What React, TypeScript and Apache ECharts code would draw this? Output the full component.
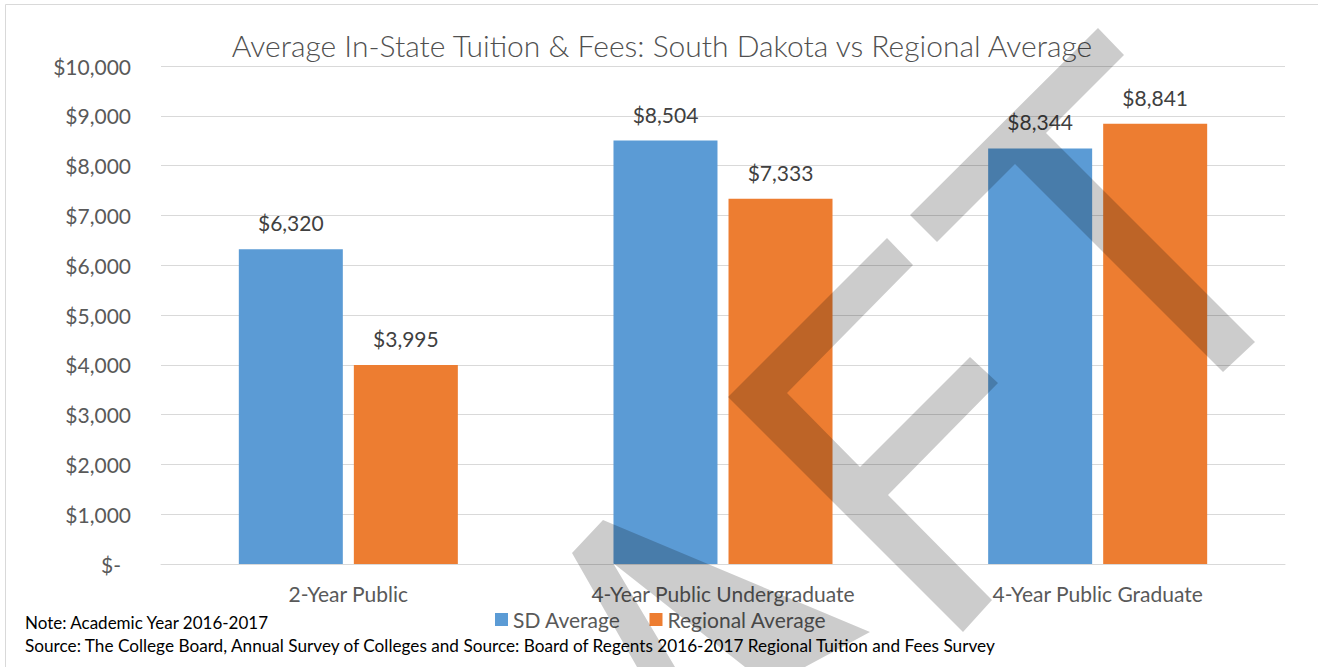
import React, { useEffect, useRef } from "react";
import * as echarts from "echarts";

const categories = ["2-Year Public", "4-Year Public Undergraduate", "4-Year Public Graduate"];
const sdAverage = [6320, 8504, 8344];
const regionalAverage = [3995, 7333, 8841];
const seriesNames = ["SD Average", "Regional Average"];
const titleText = "Average In-State Tuition & Fees: South Dakota vs Regional Average";
const noteText = "Note: Academic Year 2016-2017";
const sourceText =
  "Source: The College Board, Annual Survey of Colleges and Source: Board of Regents 2016-2017 Regional Tuition and Fees Survey";

const FONT = "Lato, 'Open Sans', sans-serif";

const fmt = (v: number) => "$" + v.toLocaleString("en-US");

export default function App() {
  const ref = useRef<HTMLDivElement>(null);
  useEffect(() => {
    document.body.style.margin = "0";
    document.body.style.overflow = "hidden";
    if (!ref.current) return;
    const chart = echarts.init(ref.current, undefined, { renderer: "svg" });
    const wm = "rgba(0,0,0,0.2)";
    const labelStyle = {
      show: true,
      position: "top",
      distance: 16,
      fontFamily: FONT,
      fontSize: 21,
      color: "#404040",
      formatter: (p: any) => fmt(p.value),
    };
    chart.setOption({
      animation: false,
      backgroundColor: "#ffffff",
      grid: { left: 161, right: 33, top: 66, bottom: 103 },
      legend: {
        left: 490,
        top: 604,
        icon: "rect",
        itemWidth: 13,
        itemHeight: 13,
        itemGap: 29,
        textStyle: { fontFamily: FONT, fontSize: 21, color: "#595959" },
        data: seriesNames,
      },
      xAxis: {
        type: "category",
        data: categories,
        axisTick: { show: false },
        axisLine: { lineStyle: { color: "#d9d9d9", width: 1 } },
        axisLabel: { fontFamily: FONT, fontSize: 21, color: "#595959", margin: 19 },
      },
      yAxis: {
        type: "value",
        min: 0,
        max: 10000,
        interval: 1000,
        axisLine: { show: false },
        axisTick: { show: false },
        splitLine: { lineStyle: { color: "#d9d9d9", width: 1 } },
        axisLabel: {
          fontFamily: FONT,
          fontSize: 21,
          color: "#595959",
          margin: 30,
          formatter: (v: number) => (v === 0 ? "{z|$-}" : fmt(v)),
          rich: { z: { fontFamily: FONT, fontSize: 21, color: "#595959", padding: [0, 10, 0, 0] } },
        },
      },
      series: [
        {
          name: seriesNames[0],
          type: "bar",
          data: sdAverage,
          barWidth: 104,
          barGap: "10.6%",
          itemStyle: { color: "#5B9BD5" },
          label: labelStyle,
        },
        {
          name: seriesNames[1],
          type: "bar",
          data: regionalAverage,
          barWidth: 104,
          itemStyle: { color: "#ED7D31" },
          label: labelStyle,
        },
      ],
      graphic: [
        {
          type: "rect",
          z: 0,
          silent: true,
          shape: { x: 5.5, y: 4.5, width: 1340, height: 700 },
          style: { fill: "none", stroke: "#d9d9d9", lineWidth: 1 },
        },
        {
          type: "text",
          x: 662,
          y: 45,
          style: {
            text: titleText,
            fontFamily: FONT,
            fontSize: 30,
            fontWeight: 300,
            fill: "#505050",
            align: "center",
            verticalAlign: "middle",
          },
        },
        {
          type: "text",
          x: 25,
          y: 622,
          style: { text: noteText, fontFamily: FONT, fontSize: 17, fill: "#000000", verticalAlign: "middle" },
        },
        {
          type: "text",
          x: 25,
          y: 645,
          style: { text: sourceText, fontFamily: FONT, fontSize: 17.2, fill: "#000000", verticalAlign: "middle" },
        },
        {
          type: "polygon",
          z: 100,
          silent: true,
          shape: {
            points: [
              [1098, 28], [1124, 55], [1046, 133], [1255, 342], [1223, 372],
              [1015, 164], [937, 242], [910, 215],
            ],
          },
          style: { fill: wm },
        },
        {
          type: "polygon",
          z: 100,
          silent: true,
          shape: {
            points: [
              [887, 238], [913, 265], [787, 393], [860, 467], [970, 357], [998, 383],
              [888, 495], [992, 600], [963, 632], [728, 397],
            ],
          },
          style: { fill: wm },
        },
        {
          type: "polygon",
          z: 100,
          silent: true,
          shape: {
            points: [
              [572, 553], [603, 520], [870, 632], [805, 667], [745, 667],
              [613, 563], [675, 667], [637, 667],
            ],
          },
          style: { fill: wm },
        },
      ],
    });
    return () => chart.dispose();
  }, []);
  return <div ref={ref} style={{ width: 1318, height: 667 }} />;
}
